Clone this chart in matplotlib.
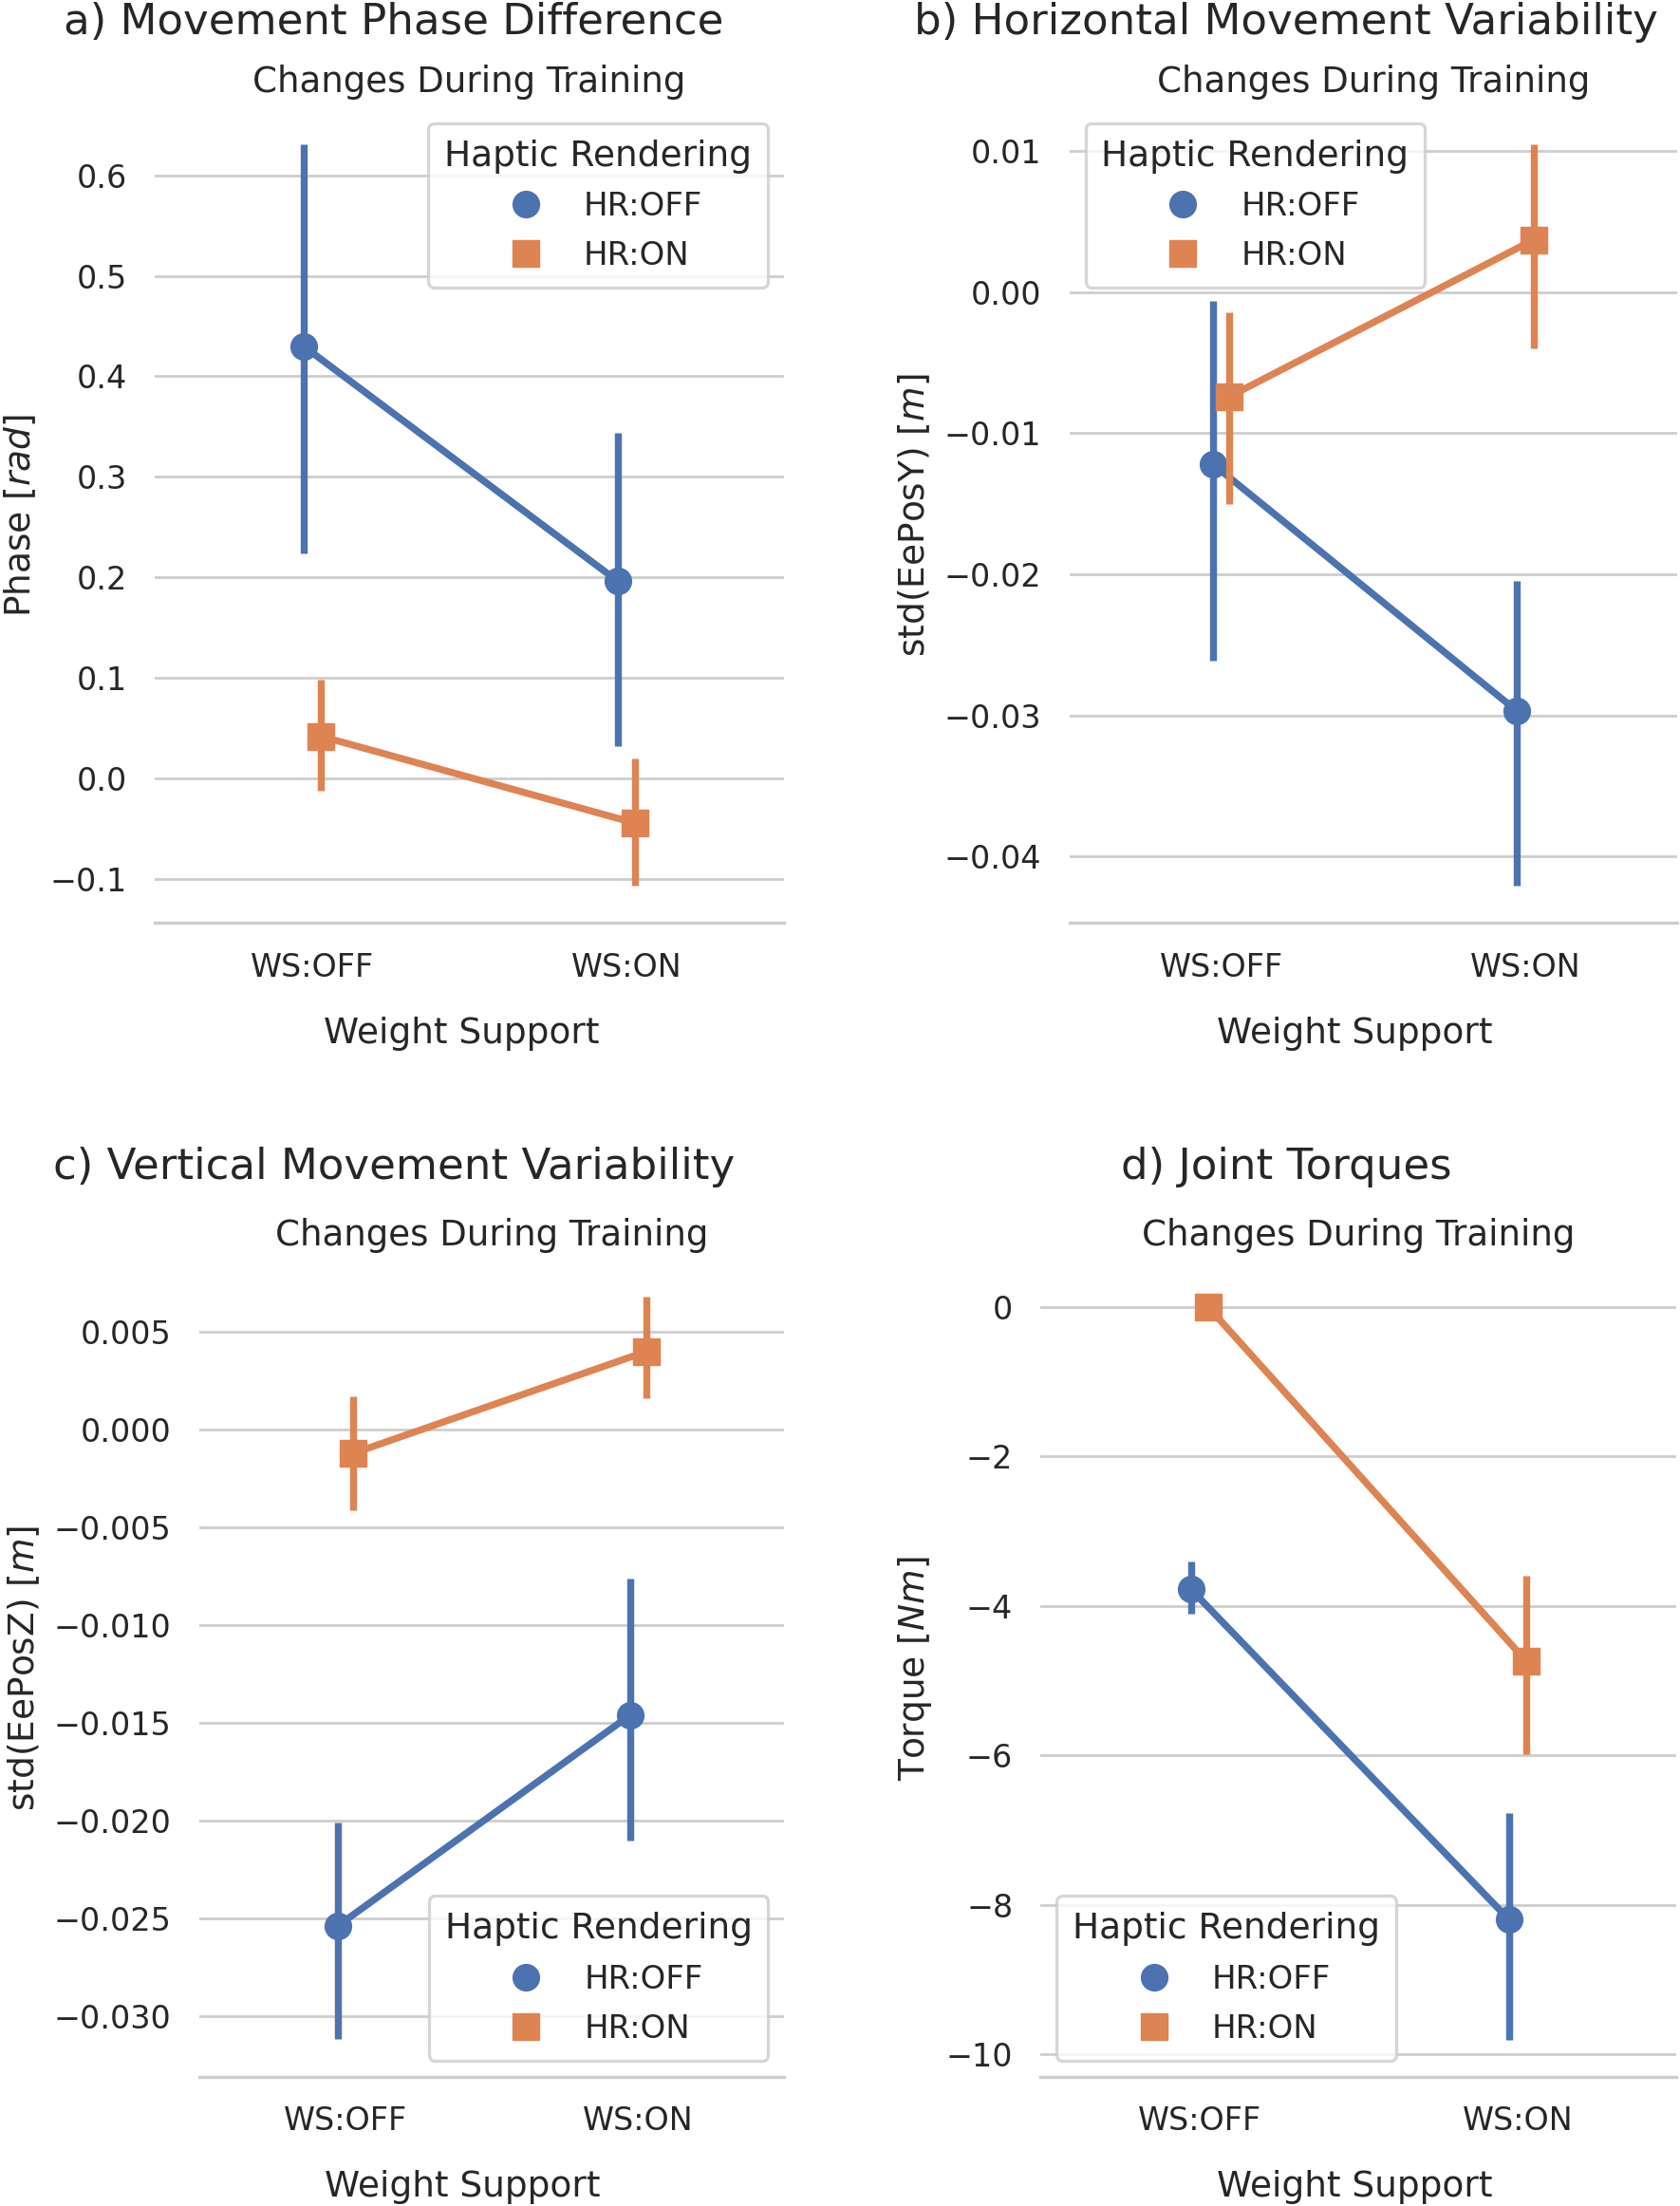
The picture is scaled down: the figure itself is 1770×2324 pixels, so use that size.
import numpy as np
import matplotlib.pyplot as plt
from matplotlib.lines import Line2D

# categories
ws_labels = ['WS:OFF', 'WS:ON']
hr_labels = ['HR:OFF', 'HR:ON']
hr_colors = ['#4C72B0', '#DD8452']
hr_markers = ['o', 's']

# means and 95% CI bounds, rows = HR:OFF, HR:ON ; cols = WS:OFF, WS:ON
phase_mean = [[0.430, 0.196], [0.042, -0.0445]]
phase_low = [[0.224, 0.032], [-0.012, -0.107]]
phase_high = [[0.631, 0.344], [0.098, 0.020]]

posy_mean = [[-0.0122, -0.0297], [-0.0074, 0.0037]]
posy_low = [[-0.0261, -0.0421], [-0.0150, -0.0040]]
posy_high = [[-0.0006, -0.0205], [-0.0014, 0.0105]]

posz_mean = [[-0.0254, -0.0146], [-0.0012, 0.0040]]
posz_low = [[-0.0312, -0.0210], [-0.0041, 0.0016]]
posz_high = [[-0.0201, -0.0076], [0.0017, 0.0068]]

torque_mean = [[-3.78, -8.20], [0.0, -4.74]]
torque_low = [[-4.11, -9.81], [0.0, -5.99]]
torque_high = [[-3.41, -6.77], [0.0, -3.60]]

TEXT = '#262626'
GRID = '#cccccc'
plt.rcParams['font.family'] = ['DejaVu Sans']
plt.rcParams['text.color'] = TEXT
plt.rcParams['axes.labelcolor'] = TEXT
plt.rcParams['xtick.color'] = TEXT
plt.rcParams['ytick.color'] = TEXT

fig = plt.figure(figsize=(17.7, 23.24), dpi=100)
fig.patch.set_facecolor('white')


def point_panel(rect, mean, low, high, ylabel, legend_loc, xlabel_x, ylim=None):
    ax = fig.add_axes(rect)
    x = np.arange(len(ws_labels))
    offsets = [-0.027, 0.027]
    for i, hr in enumerate(hr_labels):
        m = np.array(mean[i])
        err = [m - np.array(low[i]), np.array(high[i]) - m]
        ax.errorbar(x + offsets[i], m, yerr=err, color=hr_colors[i],
                    marker=hr_markers[i], markersize=20, lw=5.3, elinewidth=5.3,
                    capsize=0, label=hr, zorder=3 + i)

    ax.set_xlim(-0.5, 1.5)
    if ylim is not None:
        ax.set_ylim(*ylim)
    ax.set_xticks(x)
    ax.set_xticklabels(ws_labels)
    ax.set_xlabel('Weight Support', fontsize=27, labelpad=25)
    ax.xaxis.label.set_x(xlabel_x)
    ax.set_ylabel(ylabel, fontsize=27, labelpad=9)
    ax.tick_params(axis='x', length=0, pad=22, labelsize=24)
    ax.tick_params(axis='y', length=0, pad=21, labelsize=24)
    ax.grid(axis='y', color=GRID, lw=1.95)
    ax.set_axisbelow(True)
    for side in ['left', 'top', 'right']:
        ax.spines[side].set_visible(False)
    ax.spines['bottom'].set_color(GRID)
    ax.spines['bottom'].set_linewidth(2.4)

    handles = [Line2D([], [], ls='none', marker=hr_markers[i], color=hr_colors[i],
                      markersize=20) for i in range(len(hr_labels))]
    leg = ax.legend(handles, hr_labels, loc=legend_loc, title='Haptic Rendering',
                    fontsize=24.4, title_fontsize=27, framealpha=0.8, borderpad=0.5,
                    labelspacing=0.55)
    leg.get_frame().set_edgecolor(GRID)
    leg.get_frame().set_linewidth(2.4)
    ax.set_title('Changes During Training', fontsize=26.7, pad=11)
    return ax


point_panel([0.0921, 0.5816, 0.3744, 0.3699], phase_mean, phase_low, phase_high,
            'Phase [$rad$]', 'upper right', 0.488)
point_panel([0.6365, 0.5816, 0.3618, 0.3699], posy_mean, posy_low, posy_high,
            'std(EePosY) [$m$]', 'upper left', 0.47)
point_panel([0.1185, 0.0587, 0.3484, 0.3702], posz_mean, posz_low, posz_high,
            'std(EePosZ) [$m$]', 'lower right', 0.45)
point_panel([0.6194, 0.0587, 0.3786, 0.3702], torque_mean, torque_low, torque_high,
            'Torque [$Nm$]', 'lower left', 0.494, ylim=(-10.30, 0.63))

fig.text(0.2345, 0.9843, 'a) Movement Phase Difference', fontsize=32.5, ha='center', va='baseline')
fig.text(0.7655, 0.9843, 'b) Horizontal Movement Variability', fontsize=32.5, ha='center', va='baseline')
fig.text(0.2345, 0.4656, 'c) Vertical Movement Variability', fontsize=32.5, ha='center', va='baseline')
fig.text(0.7655, 0.4656, 'd) Joint Torques', fontsize=32.5, ha='center', va='baseline')

fig.savefig('out.png', dpi=100, facecolor='white')
